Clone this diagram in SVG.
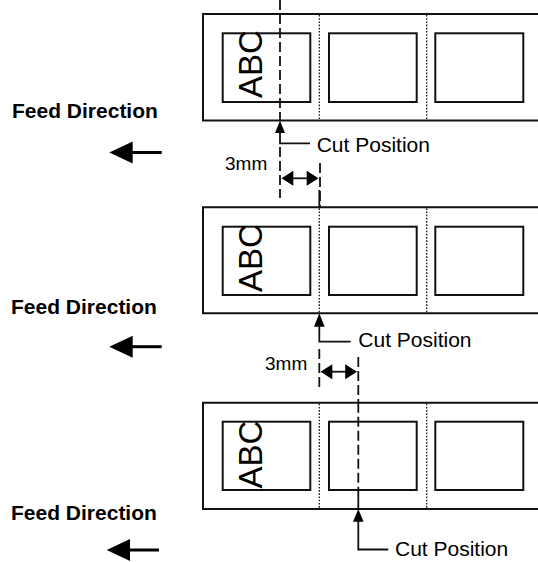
<svg xmlns="http://www.w3.org/2000/svg" width="538" height="562" viewBox="0 0 538 562">
<style>
.tape{fill:none;stroke:#111;stroke-width:2}
.lbl{fill:#fff;stroke:#111;stroke-width:2}
.dot{stroke:#111;stroke-width:1.3;stroke-dasharray:1.6 1.6;fill:none}
.dash{stroke:#111;stroke-width:1.8;stroke-dasharray:10 4;fill:none}
.solid{stroke:#111;stroke-width:1.8;fill:none}
.feed{stroke:#000;stroke-width:3;fill:none}
.hd{fill:#000}
.t{font-family:"Liberation Sans",Arial,sans-serif;fill:#000}
.fd{font-family:"Liberation Sans",Arial,sans-serif;font-weight:bold;font-size:21px;fill:#000}
.abc{font-family:"Liberation Sans",Arial,sans-serif;font-size:33px;fill:#000}
</style>
<rect width="538" height="562" fill="#fff"/>

<g id="panel1">
<path class="tape" d="M540 14 H203 V120.5 H540"/>
<rect class="lbl" x="222.7" y="33.3" width="87.6" height="68.7"/>
<rect class="lbl" x="329" y="33.3" width="87.7" height="68.7"/>
<rect class="lbl" x="435.3" y="33.3" width="88" height="68.7"/>
<line class="dot" x1="319.3" y1="15" x2="319.3" y2="119.5"/>
<line class="dot" x1="426.7" y1="15" x2="426.7" y2="119.5"/>
<text class="abc" transform="translate(262,98) rotate(-90)">ABC</text>
</g>

<g id="panel2">
<path class="tape" d="M540 207.3 H203 V313.3 H540"/>
<rect class="lbl" x="222.7" y="226.7" width="87.6" height="68.3"/>
<rect class="lbl" x="329" y="226.7" width="87.7" height="68.3"/>
<rect class="lbl" x="435.3" y="226.7" width="88" height="68.3"/>
<line class="dot" x1="319.3" y1="208.3" x2="319.3" y2="312.3"/>
<line class="dot" x1="426.7" y1="208.3" x2="426.7" y2="312.3"/>
<text class="abc" transform="translate(262,292) rotate(-90)">ABC</text>
</g>

<g id="panel3">
<path class="tape" d="M540 402.7 H203 V509 H540"/>
<rect class="lbl" x="222.7" y="421.7" width="87.6" height="68.3"/>
<rect class="lbl" x="329" y="421.7" width="87.7" height="68.3"/>
<rect class="lbl" x="435.3" y="421.7" width="88" height="68.3"/>
<line class="dot" x1="319.3" y1="403.7" x2="319.3" y2="508"/>
<line class="dot" x1="426.7" y1="403.7" x2="426.7" y2="508"/>
<text class="abc" transform="translate(262,488.5) rotate(-90)">ABC</text>
</g>

<g id="feed1">
<text class="fd" x="12" y="118.3">Feed Direction</text>
</g>
<g id="feed2">
<text class="fd" x="11" y="314">Feed Direction</text>
</g>
<g id="feed3">
<text class="fd" x="11" y="520">Feed Direction</text>
</g>

<g id="cut1">
<text class="t" x="316.7" y="152.3" font-size="21">Cut Position</text>
<text class="t" x="225" y="170" font-size="19">3mm</text>
</g>
<g id="cut2">
<text class="t" x="358.3" y="347.3" font-size="21">Cut Position</text>
<text class="t" x="265" y="370" font-size="19">3mm</text>
</g>
<g id="cut3">
<text class="t" x="395" y="555.5" font-size="21">Cut Position</text>
</g>

<g id="connectors">
<line class="feed" x1="161.7" y1="152.5" x2="130" y2="152.5"/>
<polygon class="hd" points="109.3,152.5 132.7,141.5 132.7,163.5"/>
<line class="feed" x1="161.7" y1="346.7" x2="130" y2="346.7"/>
<polygon class="hd" points="109.3,346.7 132.7,335.7 132.7,357.7"/>
<line class="feed" x1="159" y1="550" x2="127" y2="550"/>
<polygon class="hd" points="106.7,550 130,539 130,561"/>

<line class="dash" x1="280" y1="0" x2="280" y2="120"/>
<line class="dash" x1="280" y1="147" x2="280" y2="198"/>
<polygon class="hd" points="280,120.7 275,133 285,133"/>
<path class="solid" d="M280 132 V143.3 H310"/>
<line class="dash" x1="320" y1="163" x2="320" y2="207"/>
<line class="solid" x1="286" y1="178.3" x2="314" y2="178.3"/>
<polygon class="hd" points="281.5,178.3 293.3,170.8 293.3,185.8"/>
<polygon class="hd" points="318.5,178.3 306.7,170.8 306.7,185.8"/>

<line class="solid" x1="319.3" y1="190" x2="319.3" y2="207.3"/>
<polygon class="hd" points="319.3,313.3 314,326.7 324.6,326.7"/>
<path class="solid" d="M319.3 325 V341.7 H350.7"/>
<line class="dash" x1="319.3" y1="349" x2="319.3" y2="388"/>
<line class="dash" x1="358.3" y1="357" x2="358.3" y2="402.7"/>
<line class="solid" x1="325" y1="371.7" x2="352" y2="371.7"/>
<polygon class="hd" points="320.5,371.7 332.3,364.2 332.3,379.2"/>
<polygon class="hd" points="357,371.7 345.2,364.2 345.2,379.2"/>

<line class="dash" x1="358.3" y1="402.7" x2="358.3" y2="490"/>
<line class="solid" x1="358.3" y1="490" x2="358.3" y2="509"/>
<polygon class="hd" points="358.3,509 353,521.7 363.6,521.7"/>
<path class="solid" d="M358.3 520 V549.5 H388.3"/>
</g>
</svg>
